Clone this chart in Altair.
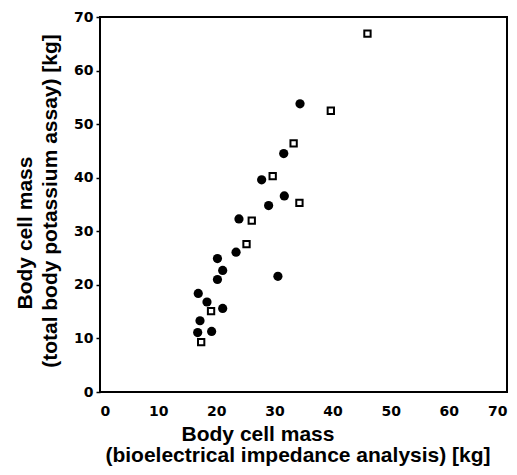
import altair as alt
import pandas as pd

# Filled circles
circle_x = [34.4, 31.6, 27.8, 31.7, 29.0, 23.9, 23.4, 20.2, 21.1, 20.2, 30.6, 16.9, 18.4, 21.1, 17.2, 16.8, 19.2]
circle_y = [53.8, 44.5, 39.6, 36.6, 34.8, 32.3, 26.1, 24.9, 22.7, 21.0, 21.6, 18.4, 16.8, 15.6, 13.3, 11.1, 11.3]
# Open squares
square_x = [46.0, 39.7, 33.3, 29.7, 34.3, 26.1, 25.2, 19.1, 17.4]
square_y = [66.9, 52.5, 46.4, 40.3, 35.3, 32.0, 27.6, 15.1, 9.3]

x_title = ["Body cell mass", "(bioelectrical impedance analysis) [kg]"]
y_title = ["Body cell mass", "(total body potassium assay) [kg]"]
ticks = [0, 10, 20, 30, 40, 50, 60, 70]

circles = pd.DataFrame({"x": circle_x, "y": circle_y})
squares = pd.DataFrame({"x": square_x, "y": square_y})

W, H = 407, 375

xs = alt.Scale(domain=[0, 70], nice=False, zero=False)
ys = alt.Scale(domain=[0, 70], nice=False, zero=False)

xax = alt.Axis(values=ticks, title=None, grid=False, ticks=False, domain=False,
               labelFont="DejaVu Sans", labelFontWeight="bold", labelFontSize=14,
               labelColor="black", labelPadding=12)
yax = alt.Axis(values=ticks, title=None, grid=False, ticks=True, tickSize=4, tickColor="black",
               tickWidth=1.5, domain=False,
               labelFont="DejaVu Sans", labelFontWeight="bold", labelFontSize=14,
               labelColor="black", labelPadding=3)

pc = alt.Chart(circles).mark_point(shape="circle", filled=True, color="black", size=85, opacity=1).encode(
    x=alt.X("x:Q", scale=xs, axis=xax),
    y=alt.Y("y:Q", scale=ys, axis=yax),
)
ps = alt.Chart(squares).mark_point(shape="square", filled=False, color="black", size=40,
                                   strokeWidth=2, opacity=1).encode(
    x=alt.X("x:Q", scale=xs),
    y=alt.Y("y:Q", scale=ys),
)

one = pd.DataFrame({"k": [0]})

def label(text, x, y, angle=0):
    return alt.Chart(one).mark_text(text=text, font="Liberation Sans", fontSize=21, fontWeight="bold",
                                    color="black", align="center", baseline="alphabetic",
                                    angle=angle).encode(
        x=alt.value(x), y=alt.value(y))

t1 = label(x_title[0], 158, 424)
t2 = label(x_title[1], 198, 445)
t3 = label(y_title[0], -68, 216, 270)
t4 = label(y_title[1], -43, 184, 270)

chart = alt.layer(pc, ps, t1, t2, t3, t4).properties(
    width=W, height=H,
    autosize=alt.AutoSizeParams(type="none"),
    padding={"left": 92, "top": 9, "right": 2, "bottom": 75},
).configure_view(stroke="black", strokeWidth=2)

chart.save("out.html", embed_options={"renderer": "svg", "actions": False})
